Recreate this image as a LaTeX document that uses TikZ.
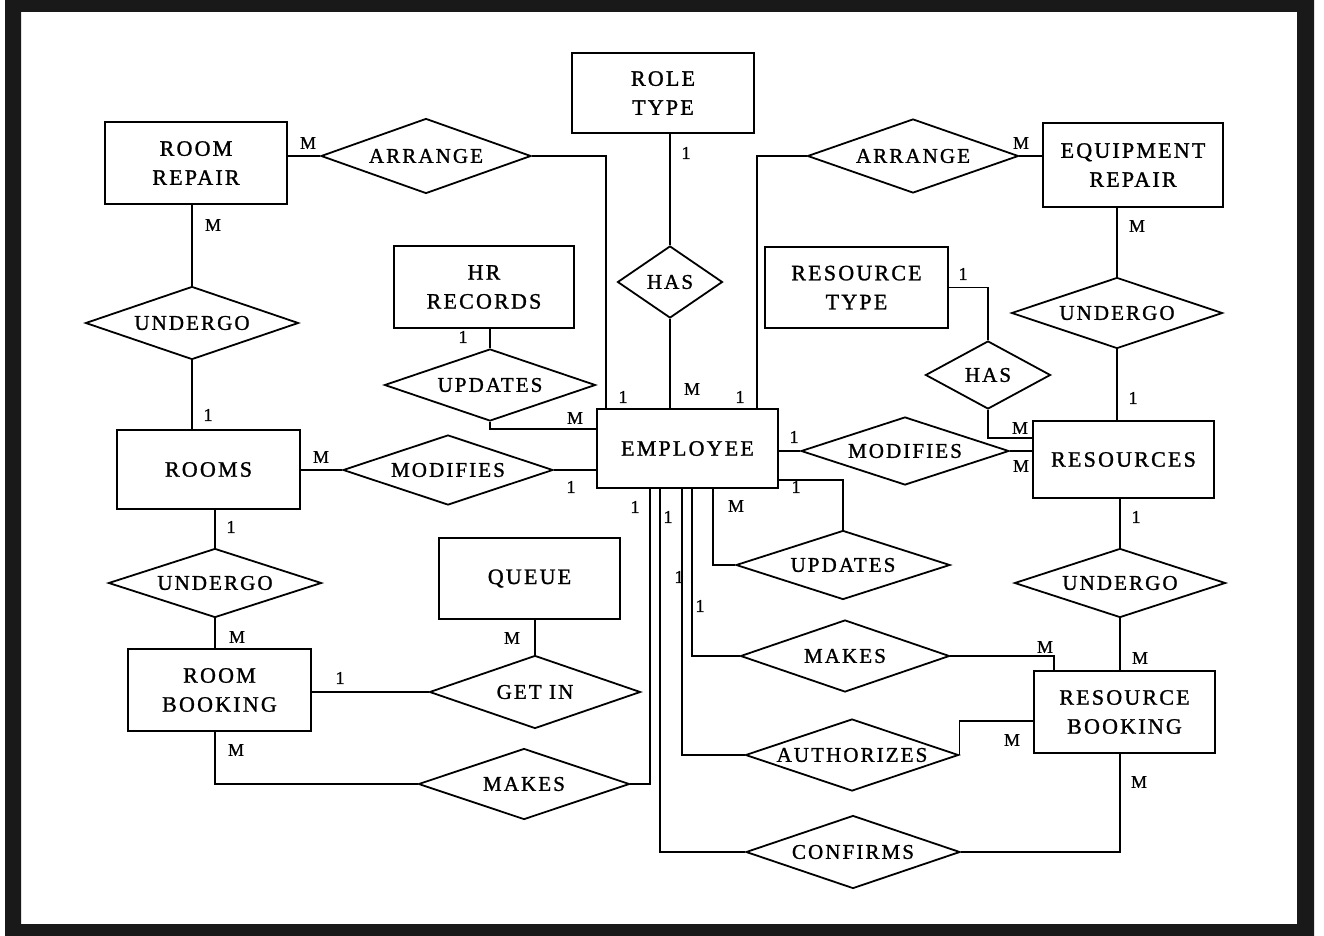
\documentclass[tikz,border=0pt]{standalone}
\usepackage{fontspec}
\setmainfont{Liberation Serif}
\newfontfamily\erfont[LetterSpace=10,FakeBold=1.2]{Liberation Serif}
\newfontfamily\cardfont[FakeBold=1]{Liberation Serif}
\usetikzlibrary{shapes.geometric,calc}

\tikzset{
  entity/.style={draw, rectangle, inner sep=0pt, align=center, line width=1.8pt,
    font=\erfont\fontsize{22}{29}\selectfont},
  rel/.style={draw, diamond, aspect=3, inner sep=0pt, line width=1.8pt,
    font=\erfont\fontsize{21}{21}\selectfont},
  card/.style={inner sep=0pt, font=\cardfont\fontsize{18}{18}\selectfont},
  link/.style={line width=1.8pt},
}

\begin{document}
\begin{tikzpicture}[x=1pt, y=-1pt]
\useasboundingbox (0,0) rectangle (1324,936);
% dark scanned frame
\fill[black!90, even odd rule] (5,0) rectangle (1314,936) (21,12) rectangle (1297,924);

% ---------- entities ----------
\node[entity, minimum width=182pt, minimum height=80pt] (roletype)    at (663,93)    {ROLE\\TYPE};
\node[entity, minimum width=182pt, minimum height=82pt] (roomrepair)  at (196,163)   {ROOM\\REPAIR};
\node[entity, minimum width=180pt, minimum height=84pt] (equiprepair) at (1133,165)  {EQUIPMENT\\REPAIR};
\node[entity, minimum width=180pt, minimum height=82pt] (hrrec)       at (484,287)   {HR\\RECORDS};
\node[entity, minimum width=183pt, minimum height=81pt] (restype)     at (856.5,287.5) {RESOURCE\\TYPE};
\node[entity, minimum width=181pt, minimum height=79pt] (employee)    at (687.5,448.5) {EMPLOYEE};
\node[entity, minimum width=183pt, minimum height=79pt] (rooms)       at (208.5,469.5) {ROOMS};
\node[entity, minimum width=181pt, minimum height=77pt] (resources)   at (1123.5,459.5) {RESOURCES};
\node[entity, minimum width=181pt, minimum height=81pt] (queue)       at (529.5,578.5) {QUEUE};
\node[entity, minimum width=183pt, minimum height=82pt] (roombooking) at (219.5,690)  {ROOM\\BOOKING};
\node[entity, minimum width=181pt, minimum height=82pt] (resbooking)  at (1124.5,712) {RESOURCE\\BOOKING};

% ---------- relationships ----------
\node[rel, minimum width=210pt, minimum height=75pt] (arr1)   at (426,156)  {ARRANGE};
\node[rel, minimum width=211pt, minimum height=74pt] (arr2)   at (913,156)  {ARRANGE};
\node[rel, minimum width=105pt, minimum height=72pt, aspect=1.5] (has1) at (670,282) {HAS};
\node[rel, minimum width=213pt, minimum height=73pt] (und1)   at (192,323)  {UNDERGO};
\node[rel, minimum width=211pt, minimum height=72pt] (upd1)   at (490,385)  {UPDATES};
\node[rel, minimum width=211pt, minimum height=71pt] (und2)   at (1117,313) {UNDERGO};
\node[rel, minimum width=125pt, minimum height=68pt, aspect=1.8] (has2) at (988,375) {HAS};
\node[rel, minimum width=210pt, minimum height=70pt] (mod1)   at (448,470)  {MODIFIES};
\node[rel, minimum width=208pt, minimum height=68pt] (mod2)   at (905,451)  {MODIFIES};
\node[rel, minimum width=214pt, minimum height=69pt] (upd2)   at (843,565)  {UPDATES};
\node[rel, minimum width=213pt, minimum height=69pt] (und3)   at (215,583)  {UNDERGO};
\node[rel, minimum width=211pt, minimum height=69pt] (und4)   at (1120,583) {UNDERGO};
\node[rel, minimum width=211pt, minimum height=73pt] (getin)  at (535,692)  {GET IN};
\node[rel, minimum width=211pt, minimum height=71pt] (makes1) at (524,784)  {MAKES};
\node[rel, minimum width=209pt, minimum height=72pt] (makes2) at (845,656)  {MAKES};
\node[rel, minimum width=213pt, minimum height=72pt] (auth)   at (852,755)  {AUTHORIZES};
\node[rel, minimum width=214pt, minimum height=73pt] (conf)   at (853,852)  {CONFIRMS};

% ---------- connectors ----------
\draw[link] (arr1.west) -- (arr1.west -| roomrepair.east);
\draw[link] (arr1.east) -| ([xshift=10pt]employee.north west);
\draw[link] (has1.north) -- (has1.north |- roletype.south);
\draw[link] (has1.south) -- (has1.south |- employee.north);
\draw[link] (arr2.west) -| ([xshift=-22pt]employee.north east);
\draw[link] (arr2.east) -- (arr2.east -| equiprepair.west);
\draw[link] (und1.north) -- (und1.north |- roomrepair.south);
\draw[link] (und1.south) -- (und1.south |- rooms.north);
\draw[link] (upd1.north) -- (upd1.north |- hrrec.south);
\draw[link] (upd1.south) |- ([yshift=19.5pt]employee.west);
\draw[link] (mod1.west) -- (mod1.west -| rooms.east);
\draw[link] (mod1.east) -- (mod1.east -| employee.west);
\draw[link] (mod2.west) -- (mod2.west -| employee.east);
\draw[link] (mod2.east) -- (mod2.east -| resources.west);
\draw[link] (restype.east) -| (has2.north);
\draw[link] (has2.south) |- ([yshift=21.5pt]resources.west);
\draw[link] (und2.north) -- (und2.north |- equiprepair.south);
\draw[link] (und2.south) -- (und2.south |- resources.north);
\draw[link] (und4.north) -- (und4.north |- resources.south);
\draw[link] (und4.south) -- (und4.south |- resbooking.north);
\draw[link] (und3.north) -- (und3.north |- rooms.south);
\draw[link] (und3.south) -- (und3.south |- roombooking.north);
\draw[link] (getin.west) -- (getin.west -| roombooking.east);
\draw[link] (getin.north) -- (getin.north |- queue.south);
\draw[link] (makes1.west) -| (und3.south |- roombooking.south);
\draw[link] ([xshift=54pt]employee.south west) |- (makes1.east);
\draw[link] ([xshift=64pt]employee.south west) |- (conf.west);
\draw[link] ([xshift=86pt]employee.south west) |- (auth.west);
\draw[link] ([xshift=96pt]employee.south west) |- (makes2.west);
\draw[link] ([xshift=117pt]employee.south west) |- (upd2.west);
\draw[link] ([yshift=9pt]employee.south east) -| (upd2.north);
\draw[link] (makes2.east) -| ([xshift=21pt]resbooking.north west);
\draw[link] (auth.east) |- ([yshift=-9pt]resbooking.west);
\draw[link] (conf.east) -| (und4.south |- resbooking.south);

% ---------- cardinalities ----------
\node[card] (c01) at (308,143)  {M};
\node[card] (c02) at (623,397)  {1};
\node[card] (c03) at (686,153)  {1};
\node[card] (c04) at (692,389)  {M};
\node[card] (c05) at (740,397)  {1};
\node[card] (c06) at (1021,143) {M};
\node[card] (c07) at (213,225)  {M};
\node[card] (c08) at (208,415)  {1};
\node[card] (c09) at (463,337)  {1};
\node[card] (c10) at (575,418)  {M};
\node[card] (c11) at (321,457)  {M};
\node[card] (c12) at (571,487)  {1};
\node[card] (c13) at (794,437)  {1};
\node[card] (c14) at (1021,466) {M};
\node[card] (c15) at (963,274)  {1};
\node[card] (c16) at (1020,428) {M};
\node[card] (c17) at (1137,226) {M};
\node[card] (c18) at (1133,398) {1};
\node[card] (c19) at (1136,517) {1};
\node[card] (c20) at (1140,658) {M};
\node[card] (c21) at (231,527)  {1};
\node[card] (c22) at (237,637)  {M};
\node[card] (c23) at (340,678)  {1};
\node[card] (c24) at (512,638)  {M};
\node[card] (c25) at (236,750)  {M};
\node[card] (c26) at (635,507)  {1};
\node[card] (c27) at (668,517)  {1};
\node[card] (c28) at (679,577)  {1};
\node[card] (c29) at (700,606)  {1};
\node[card] (c30) at (736,506)  {M};
\node[card] (c31) at (796,487)  {1};
\node[card] (c32) at (1045,647) {M};
\node[card] (c33) at (1012,740) {M};
\node[card] (c34) at (1139,782) {M};
\end{tikzpicture}
\end{document}
